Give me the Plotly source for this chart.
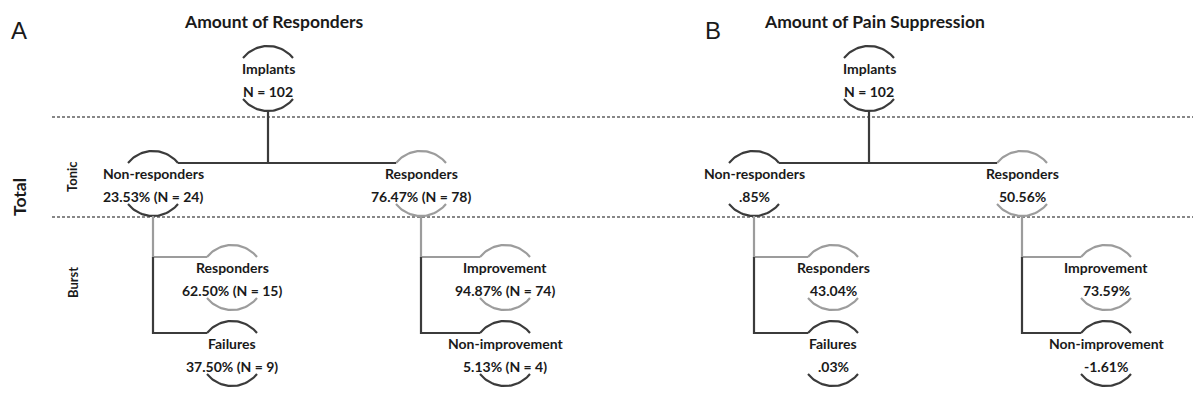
import numpy as np
import plotly.graph_objects as go

# ---------------- data ----------------
panel_letters = ["A", "B"]
panel_titles = ["Amount of Responders", "Amount of Pain Suppression"]
node_names = ["Implants", "Non-responders", "Responders", "Responders",
              "Failures", "Improvement", "Non-improvement"]
values_A = ["N = 102", "23.53% (N = 24)", "76.47% (N = 78)", "62.50% (N = 15)",
            "37.50% (N = 9)", "94.87% (N = 74)", "5.13% (N = 4)"]
values_B = ["N = 102", ".85%", "50.56%", "43.04%", ".03%", "73.59%", "-1.61%"]
row_labels = ["Total", "Tonic", "Burst"]
panel_values = [values_A, values_B]

# ---------------- layout (pixel space) ----------------
W, H = 1201, 408
PAD = 8  # default page margin of the html body
DARK = "#3b3b3b"
GRAY = "#9c9c9c"
TXT = "#1a1a1a"
FONT = "Lato"

panel_dx = [0, 601]
node_x = [268, 153, 421, 232, 232, 505, 505]
node_y = [58, 163, 163, 257, 333, 257, 333]  # top-arc end points
node_col = [DARK, DARK, GRAY, GRAY, DARK, GRAY, DARK]
HW, SAG = 25, 12          # arc half-width and height
LAB_DY, VAL_DY, BOT_DY = 10, 33, 41

fig = go.Figure()


def arc(cx, y0, up=True):
    r = (HW ** 2 + SAG ** 2) / (2 * SAG)
    a = np.arcsin(HW / r)
    t = np.linspace(-a, a, 40)
    xs = cx + r * np.sin(t)
    if up:
        ys = y0 - (r * np.cos(t) - (r - SAG))
    else:
        ys = y0 + (r * np.cos(t) - (r - SAG))
    return xs, ys


def line(xs, ys, color, width=2.2, dash=None):
    fig.add_trace(go.Scatter(x=xs, y=ys, mode="lines", hoverinfo="skip",
                             line=dict(color=color, width=width, dash=dash),
                             showlegend=False))


# dashed separators
for yy in [117, 217]:
    line([52, W], [yy, yy], "#111111", width=1.1, dash="3px,2px")

for p in range(2):
    dx = panel_dx[p]
    vals = panel_values[p]
    # nodes
    for i in range(len(node_names)):
        cx = node_x[i] + dx
        y0 = node_y[i]
        xs, ys = arc(cx, y0, up=True)
        line(xs, ys, node_col[i])
        xs, ys = arc(cx, y0 + BOT_DY, up=False)
        line(xs, ys, node_col[i])
        fig.add_annotation(x=cx, y=y0 + LAB_DY, text=node_names[i],
                           showarrow=False,
                           font=dict(family=FONT, size=14, color=TXT, weight="bold"))
        fig.add_annotation(x=cx, y=y0 + VAL_DY, text=vals[i], showarrow=False,
                           font=dict(family=FONT, size=14, color=TXT, weight="bold"))
    # root connectors
    rx = node_x[0] + dx
    line([rx, rx], [node_y[0] + BOT_DY + SAG, node_y[1]], DARK)
    line([node_x[1] + dx + HW, node_x[2] + dx - HW], [node_y[1], node_y[2]], DARK)
    # burst connectors
    for parent, c1, c2 in [(1, 3, 4), (2, 5, 6)]:
        px = node_x[parent] + dx
        top = node_y[parent] + BOT_DY + SAG
        line([px, px, node_x[c1] + dx - HW], [top, node_y[c1], node_y[c1]], GRAY)
        line([px, px, node_x[c2] + dx - HW], [node_y[c1], node_y[c2], node_y[c2]], DARK)
    # titles
    fig.add_annotation(x=[19, 713][p], y=30, text=panel_letters[p], showarrow=False,
                       font=dict(family="Liberation Sans", size=24, color=TXT))
    fig.add_annotation(x=[274, 874][p], y=21, text=panel_titles[p], showarrow=False,
                       font=dict(family=FONT, size=17.5, color=TXT, weight="bold"))

# row labels
fig.add_annotation(x=19, y=197, text=row_labels[0], textangle=-90, showarrow=False,
                   borderpad=0,
                   font=dict(family=FONT, size=17.5, color=TXT, weight="bold"))
fig.add_annotation(x=72, y=177, text=row_labels[1], textangle=-90, showarrow=False,
                   font=dict(family=FONT, size=13, color=TXT, weight="bold"))
fig.add_annotation(x=73, y=283, text=row_labels[2], textangle=-90, showarrow=False,
                   font=dict(family=FONT, size=13, color=TXT, weight="bold"))

fig.update_xaxes(range=[PAD, W], visible=False, fixedrange=True)
fig.update_yaxes(range=[H, PAD], visible=False, fixedrange=True)
fig.update_layout(width=W - PAD, height=H - PAD, margin=dict(l=0, r=0, t=0, b=0),
                  plot_bgcolor="white", paper_bgcolor="white")

fig.write_html("out.html", config={"displayModeBar": False})
